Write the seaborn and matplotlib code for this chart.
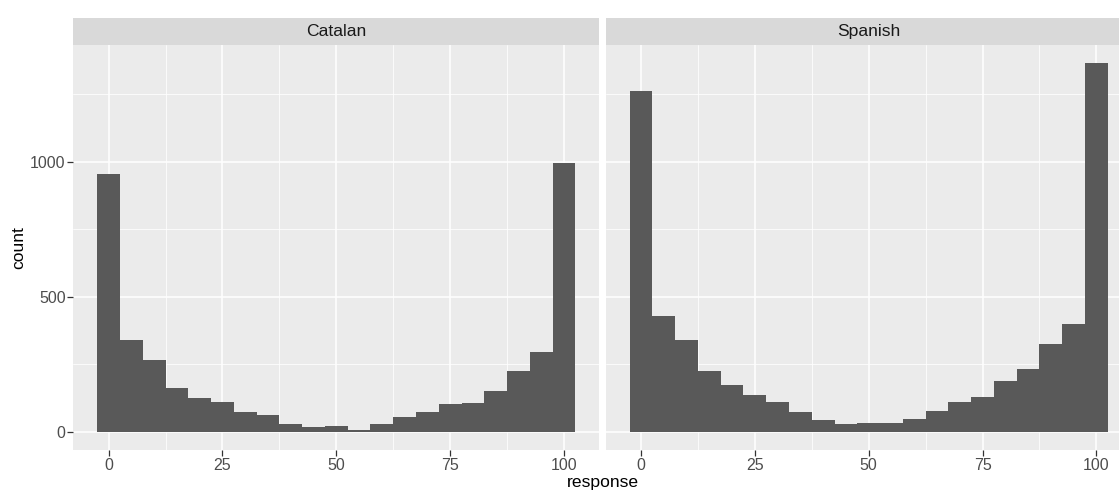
import numpy as np
import pandas as pd
import matplotlib
matplotlib.use("Agg")
import matplotlib.pyplot as plt
import seaborn as sns

# ---- data ----
panels = ["Catalan", "Spanish"]
bin_centers = [0, 5, 10, 15, 20, 25, 30, 35, 40, 45, 50,
               55, 60, 65, 70, 75, 80, 85, 90, 95, 100]
catalan_counts = [954, 338, 264, 160, 124, 109, 72, 62, 28, 16, 21,
                  7, 28, 53, 72, 103, 105, 151, 224, 296, 996]
spanish_counts = [1263, 427, 339, 224, 173, 137, 108, 72, 43, 28, 31,
                  33, 45, 77, 110, 130, 188, 233, 325, 397, 1364]
x_ticks = [0, 25, 50, 75, 100]
y_ticks = [0, 500, 1000]

df = pd.DataFrame({
    "response": bin_centers * 2,
    "n": catalan_counts + spanish_counts,
    "language": ["Catalan"] * len(bin_centers) + ["Spanish"] * len(bin_centers),
})

sns.set_theme(style="darkgrid")
plt.rcParams["font.family"] = ["Liberation Sans", "DejaVu Sans"]

W, H = 1119, 491
fig = plt.figure(figsize=(W / 100, H / 100), dpi=100)

def fx(px):
    return px / W

def fy(py):
    return (H - py) / H

panel_top, panel_bot = 45.0, 450.0
strip_top = 17.7
lefts = [73.3, 605.7]
pw = 526.0

xlim = (-7.75, 107.75)
ylim = (-68.2, 1432.2)

for i, lang in enumerate(panels):
    ax = fig.add_axes([fx(lefts[i]), fy(panel_bot), pw / W, (panel_bot - panel_top) / H])
    ax.set_facecolor("#EBEBEB")
    sub = df[df["language"] == lang]
    sns.histplot(data=sub, x="response", weights="n", binwidth=5, binrange=(-2.5, 102.5),
                 ax=ax, color="#595959", alpha=1, linewidth=0, edgecolor="none")
    ax.set_xlim(*xlim)
    ax.set_ylim(*ylim)
    ax.set_xticks(x_ticks)
    ax.set_xticks([12.5, 37.5, 62.5, 87.5], minor=True)
    ax.set_yticks(y_ticks)
    ax.set_yticks([250, 750, 1250], minor=True)
    ax.grid(which="major", color="white", linewidth=1.1)
    ax.grid(which="minor", color="white", linewidth=0.55)
    ax.set_axisbelow(True)
    for s in ax.spines.values():
        s.set_visible(False)
    ax.tick_params(axis="x", which="major", bottom=True, length=4, width=0.9, color="#333333",
                   labelsize=11.5, labelcolor="#4D4D4D", pad=1.5)
    ax.tick_params(which="minor", length=0)
    if i == 0:
        ax.tick_params(axis="y", which="major", left=True, length=4, width=0.9, color="#333333",
                       labelsize=11.5, labelcolor="#4D4D4D", pad=1.5)
    else:
        ax.tick_params(axis="y", which="major", length=0, labelleft=False)
    ax.set_xlabel("")
    ax.set_ylabel("")

    sax = fig.add_axes([fx(lefts[i]), fy(panel_top), pw / W, (panel_top - strip_top) / H])
    sax.set_facecolor("#D9D9D9")
    sax.grid(False)
    sax.set_xticks([])
    sax.set_yticks([])
    for s in sax.spines.values():
        s.set_visible(False)
    sax.text(0.5, 0.5, lang, ha="center", va="center", fontsize=12.6,
             color="#1A1A1A", transform=sax.transAxes)

fig.text(fx(602.5), fy(482.0), "response", ha="center", va="center",
         fontsize=12.6, color="black")
fig.text(fx(18.3), fy((panel_top + panel_bot) / 2), "count", ha="center",
         va="center", rotation=90, fontsize=12.6, color="black")

fig.savefig("out.png", dpi=100, facecolor="white")
